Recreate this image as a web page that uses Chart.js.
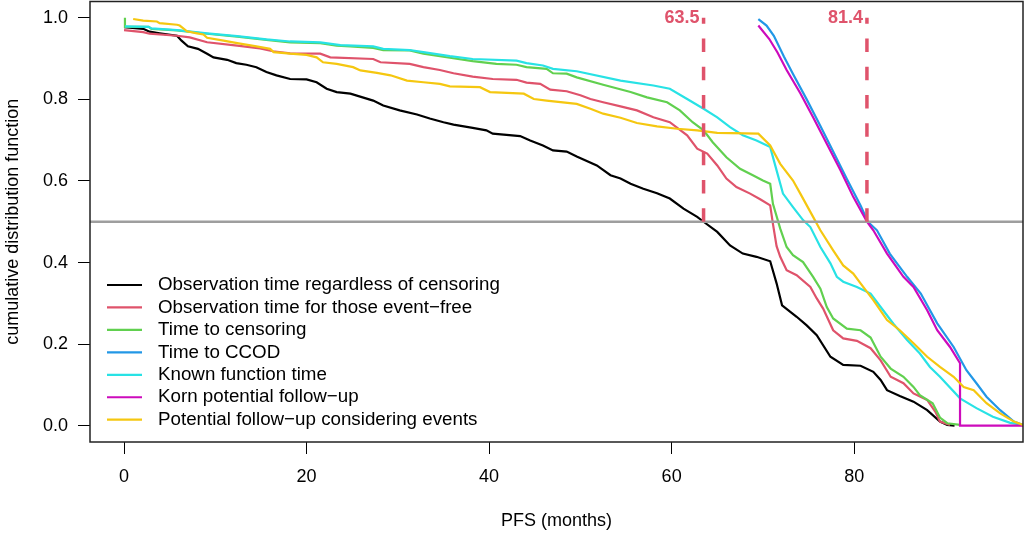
<!DOCTYPE html>
<html>
<head>
<meta charset="utf-8">
<script src="https://cdn.jsdelivr.net/npm/chart.js@4.4.1/dist/chart.umd.min.js"></script>
<style>
  html, body { margin: 0; padding: 0; background: #fff; }
</style>
</head>
<body>
<canvas id="myChart" width="1026" height="533"></canvas>
<script>
// tick values
var xTickValues = [0, 20, 40, 60, 80];
var yTickValues = [0, 0.2, 0.4, 0.6, 0.8, 1.0];

// median follow-up markers
var medianValues = [63.5, 81.4];
var halfLevel = 0.5;

// Observation time regardless of censoring
var obsAllX = [0, 2.1, 2.8, 3.9, 5.8, 6.3, 7.0, 8.1, 9.1, 9.8, 11.3, 12.3, 13.4, 14.5, 15.6, 16.7, 18.2, 20.0, 21.1, 22.2, 23.3, 24.8, 27.3, 28.4, 30.2, 32.1, 33.5, 35.0, 36.1, 38.2, 39.7, 40.4, 43.4, 44.5, 45.9, 47.0, 48.5, 49.6, 51.8, 53.3, 54.4, 55.5, 56.9, 58.4, 59.8, 61.3, 62.8, 63.5, 65.0, 66.4, 67.8, 69.3, 70.8, 71.5, 72.1, 73.7, 74.8, 75.9, 77.4, 78.8, 80.7, 82.1, 82.9, 83.6, 85.0, 86.5, 88.0, 89.4, 90.2, 91.0];
var obsAllY = [0.977, 0.973, 0.966, 0.962, 0.956, 0.944, 0.930, 0.924, 0.912, 0.903, 0.897, 0.889, 0.885, 0.879, 0.867, 0.859, 0.850, 0.849, 0.842, 0.826, 0.818, 0.814, 0.797, 0.785, 0.773, 0.763, 0.753, 0.744, 0.738, 0.730, 0.724, 0.716, 0.710, 0.699, 0.687, 0.675, 0.672, 0.660, 0.638, 0.614, 0.606, 0.593, 0.581, 0.570, 0.557, 0.532, 0.512, 0.500, 0.475, 0.442, 0.422, 0.414, 0.403, 0.349, 0.295, 0.267, 0.246, 0.222, 0.169, 0.149, 0.147, 0.132, 0.112, 0.087, 0.073, 0.059, 0.038, 0.010, 0.002, 0.0];

// Observation time for those event-free
var eventFreeX = [0, 2.1, 2.8, 5.8, 7.2, 9.1, 12.4, 14.9, 16.3, 18.2, 21.5, 22.6, 27.3, 28.1, 31.3, 32.8, 34.6, 36.1, 38.2, 40.4, 43.0, 44.1, 45.6, 46.7, 48.5, 50.0, 51.1, 52.5, 54.4, 56.2, 58.0, 59.8, 61.7, 62.8, 63.9, 65.0, 66.0, 67.1, 68.6, 69.7, 70.8, 71.1, 71.5, 71.9, 72.6, 73.7, 75.2, 75.9, 76.6, 77.7, 78.8, 80.3, 81.8, 82.9, 84.0, 85.4, 86.5, 88.0, 88.9, 89.4, 90.5];
var eventFreeY = [0.970, 0.965, 0.961, 0.956, 0.952, 0.940, 0.932, 0.925, 0.918, 0.913, 0.912, 0.903, 0.899, 0.891, 0.887, 0.879, 0.872, 0.864, 0.856, 0.850, 0.848, 0.841, 0.838, 0.824, 0.820, 0.810, 0.801, 0.793, 0.783, 0.773, 0.756, 0.744, 0.712, 0.679, 0.667, 0.638, 0.606, 0.585, 0.569, 0.555, 0.540, 0.495, 0.440, 0.414, 0.381, 0.369, 0.340, 0.312, 0.287, 0.234, 0.214, 0.208, 0.190, 0.160, 0.120, 0.104, 0.079, 0.063, 0.034, 0.010, 0.002];

// Time to censoring
var censorX = [0.1, 0.1, 2.7, 3.0, 5.8, 9.1, 12.4, 15.6, 18.2, 21.5, 23.3, 24.8, 27.3, 28.4, 31.3, 32.8, 35.7, 38.2, 40.8, 43.0, 44.1, 46.3, 47.0, 48.5, 49.6, 52.5, 55.5, 57.3, 59.5, 60.9, 62.3, 63.5, 64.5, 66.0, 67.5, 68.9, 70.0, 70.8, 71.1, 71.9, 72.6, 73.3, 74.4, 75.5, 76.3, 77.0, 77.7, 79.2, 80.7, 81.8, 82.9, 84.0, 85.4, 86.5, 87.2, 88.6, 89.4, 90.2, 91.6];
var censorY = [1.0, 0.978, 0.978, 0.973, 0.969, 0.961, 0.954, 0.946, 0.940, 0.938, 0.932, 0.930, 0.926, 0.921, 0.920, 0.912, 0.902, 0.894, 0.887, 0.885, 0.879, 0.875, 0.864, 0.863, 0.854, 0.836, 0.818, 0.805, 0.793, 0.773, 0.744, 0.724, 0.695, 0.658, 0.630, 0.614, 0.601, 0.593, 0.544, 0.483, 0.438, 0.418, 0.401, 0.365, 0.336, 0.291, 0.263, 0.238, 0.234, 0.216, 0.169, 0.140, 0.120, 0.095, 0.075, 0.055, 0.020, 0.006, 0.002];

// Time to CCOD
var ccodX = [69.5, 70.4, 71.2, 72.3, 73.3, 74.8, 76.3, 77.7, 79.2, 80.7, 81.5, 82.5, 83.9, 85.8, 87.3, 89.1, 90.9, 92.3, 93.4, 94.5, 96.0, 97.5, 98.5];
var ccodY = [0.997, 0.981, 0.956, 0.905, 0.862, 0.800, 0.735, 0.672, 0.605, 0.540, 0.500, 0.479, 0.422, 0.365, 0.324, 0.251, 0.193, 0.136, 0.104, 0.071, 0.038, 0.010, 0.002];

// Known function time
var knownX = [0.1, 2.7, 3.0, 5.8, 9.1, 12.4, 15.6, 18.2, 21.5, 23.7, 27.3, 28.4, 31.3, 32.8, 35.7, 38.2, 43.0, 44.1, 45.9, 47.0, 49.6, 54.4, 58.0, 59.8, 61.7, 63.5, 65.0, 66.4, 67.8, 69.3, 70.8, 71.5, 72.2, 73.3, 74.4, 75.2, 76.3, 77.4, 78.1, 78.8, 80.3, 81.8, 82.9, 84.3, 85.8, 87.2, 88.3, 89.4, 91.6, 93.4, 95.2, 97.1, 98.5];
var knownY = [0.979, 0.978, 0.974, 0.970, 0.962, 0.955, 0.947, 0.942, 0.940, 0.933, 0.930, 0.924, 0.921, 0.916, 0.906, 0.899, 0.895, 0.889, 0.883, 0.875, 0.869, 0.846, 0.834, 0.826, 0.801, 0.777, 0.756, 0.732, 0.712, 0.699, 0.683, 0.626, 0.569, 0.536, 0.504, 0.487, 0.438, 0.398, 0.365, 0.353, 0.340, 0.324, 0.291, 0.250, 0.210, 0.177, 0.144, 0.120, 0.067, 0.043, 0.022, 0.007, 0.002];

// Korn potential follow-up
var kornX = [69.5, 70.7, 71.6, 72.6, 74.1, 75.5, 77.0, 78.5, 79.9, 81.4, 82.1, 83.6, 85.4, 86.5, 88.0, 89.1, 90.5, 91.6, 91.6, 98.5];
var kornY = [0.981, 0.948, 0.915, 0.872, 0.815, 0.756, 0.691, 0.626, 0.561, 0.500, 0.479, 0.422, 0.365, 0.340, 0.283, 0.234, 0.193, 0.153, 0.0, 0.0];

// Potential follow-up considering events
var potX = [1.0, 2.1, 3.6, 3.9, 5.8, 6.1, 6.9, 8.0, 8.7, 9.1, 10.9, 12.4, 14.5, 16.0, 16.4, 18.2, 20.0, 21.1, 21.8, 23.3, 25.1, 25.9, 27.7, 29.2, 31.0, 32.8, 34.6, 35.7, 39.0, 40.1, 43.8, 44.9, 46.3, 49.6, 51.1, 52.5, 54.4, 56.2, 58.4, 60.6, 62.8, 65.0, 69.5, 70.8, 71.9, 73.3, 74.1, 75.5, 76.3, 77.7, 78.8, 79.9, 80.7, 82.1, 83.6, 85.0, 86.5, 88.0, 89.4, 90.9, 92.0, 93.1, 94.5, 96.0, 97.5, 98.5];
var potY = [0.997, 0.993, 0.991, 0.987, 0.983, 0.981, 0.967, 0.962, 0.959, 0.951, 0.944, 0.938, 0.930, 0.924, 0.916, 0.912, 0.909, 0.903, 0.891, 0.887, 0.879, 0.871, 0.865, 0.859, 0.846, 0.842, 0.838, 0.832, 0.830, 0.818, 0.814, 0.801, 0.797, 0.789, 0.777, 0.765, 0.755, 0.742, 0.734, 0.728, 0.724, 0.718, 0.716, 0.687, 0.642, 0.601, 0.569, 0.512, 0.479, 0.430, 0.393, 0.373, 0.349, 0.308, 0.259, 0.234, 0.202, 0.169, 0.144, 0.120, 0.095, 0.087, 0.055, 0.030, 0.010, 0.002];

var seriesNames = [
  'Observation time regardless of censoring',
  'Observation time for those event\u2212free',
  'Time to censoring',
  'Time to CCOD',
  'Known function time',
  'Korn potential follow\u2212up',
  'Potential follow\u2212up considering events'
];
var seriesColors = ['#000000', '#DF536B', '#61D04F', '#2297E6', '#28E2E5', '#CD0BBC', '#F5C710'];
var seriesX = [obsAllX, eventFreeX, censorX, ccodX, knownX, kornX, potX];
var seriesY = [obsAllY, eventFreeY, censorY, ccodY, knownY, kornY, potY];

var xMin = -3.73, xMax = 98.5;
var yMin = -0.04, yMax = 1.04;
var fontFamily = '"Liberation Sans", Arial, Helvetica, sans-serif';

function toPoints(xs, ys) {
  return xs.map(function (x, i) { return { x: x, y: ys[i] }; });
}

var datasets = [];
var nLayers = seriesNames.length + 1 + medianValues.length;
seriesNames.forEach(function (name, i) {
  datasets.push({
    label: name,
    data: toPoints(seriesX[i], seriesY[i]),
    borderColor: seriesColors[i],
    borderWidth: 2.2,
    pointRadius: 0,
    tension: 0,
    fill: false,
    order: nLayers - i
  });
});
// horizontal reference at 0.5
datasets.push({
  label: 'half',
  data: [{ x: xMin, y: halfLevel }, { x: xMax, y: halfLevel }],
  borderColor: '#9E9E9E',
  borderWidth: 2.5,
  pointRadius: 0,
  order: 1 + medianValues.length
});
// dashed median lines
medianValues.forEach(function (m, k) {
  datasets.push({
    label: 'median' + k,
    data: [{ x: m, y: halfLevel }, { x: m, y: 1.0 }],
    borderColor: '#DF536B',
    borderWidth: 3.5,
    borderDash: [13.5, 14.8],
    pointRadius: 0,
    order: medianValues.length - k
  });
});

var rDecor = {
  id: 'rDecor',
  afterDraw: function (chart) {
    var a = chart.chartArea;
    var c = chart.ctx;
    var xs = chart.scales.x, ys = chart.scales.y;
    c.save();
    // plot frame
    c.strokeStyle = '#222';
    c.lineWidth = 1.5;
    c.strokeRect(a.left, a.top, a.right - a.left, a.bottom - a.top);

    // median labels
    c.fillStyle = '#DF536B';
    c.font = 'bold 18px ' + fontFamily;
    c.textAlign = 'right';
    c.textBaseline = 'middle';
    medianValues.forEach(function (m) {
      c.fillText(m.toFixed(1), xs.getPixelForValue(m) - 4, ys.getPixelForValue(1.0));
    });

    // legend, bottom left, no box
    var n = seriesNames.length;
    c.font = '18.75px ' + fontFamily;
    c.textAlign = 'left';
    c.fillStyle = '#000';
    seriesNames.forEach(function (name, i) {
      var y = a.bottom - 22.3 - (n - 1 - i) * 22.45;
      c.strokeStyle = seriesColors[i];
      c.lineWidth = 2.2;
      c.beginPath();
      c.moveTo(a.left + 17, y);
      c.lineTo(a.left + 52, y);
      c.stroke();
      c.fillText(name, a.left + 68, y);
    });
    c.restore();
  }
};

function noPad(axis) {
  axis.paddingTop = 0;
  axis.paddingBottom = 0;
  axis.paddingLeft = 0;
  axis.paddingRight = 0;
}

var ctx = document.getElementById('myChart').getContext('2d');
var myChart = new Chart(ctx, {
  type: 'line',
  data: { datasets: datasets },
  options: {
    responsive: false,
    animation: false,
    layout: { padding: { top: 1.5, right: 3, left: 0, bottom: 0 } },
    plugins: {
      legend: { display: false },
      tooltip: { enabled: false }
    },
    scales: {
      x: {
        type: 'linear',
        min: xMin,
        max: xMax,
        afterBuildTicks: function (axis) {
          axis.ticks = xTickValues.map(function (v) { return { value: v }; });
        },
        afterFit: function (axis) { axis.height = 91; noPad(axis); },
        grid: { drawOnChartArea: false, drawTicks: true, tickLength: 12, color: '#000', lineWidth: 1 },
        border: { display: false },
        ticks: {
          color: '#000',
          padding: 12,
          maxRotation: 0,
          font: { family: fontFamily, size: 18 },
          callback: function (v) { return String(v); }
        },
        title: {
          display: true,
          text: 'PFS (months)',
          color: '#000',
          font: { family: fontFamily, size: 18 },
          padding: { top: 0, bottom: 1 }
        }
      },
      y: {
        type: 'linear',
        min: yMin,
        max: yMax,
        afterBuildTicks: function (axis) {
          axis.ticks = yTickValues.map(function (v) { return { value: v }; });
        },
        afterFit: function (axis) { axis.width = 90; noPad(axis); },
        grid: { drawOnChartArea: false, drawTicks: true, tickLength: 12, color: '#000', lineWidth: 1 },
        border: { display: false },
        ticks: {
          color: '#000',
          padding: 10,
          font: { family: fontFamily, size: 18 },
          callback: function (v) { return v.toFixed(1); }
        },
        title: {
          display: true,
          text: 'cumulative distribution function',
          color: '#000',
          font: { family: fontFamily, size: 18 },
          padding: { top: 2, bottom: 0 }
        }
      }
    }
  },
  plugins: [rDecor]
});
</script>
</body>
</html>
